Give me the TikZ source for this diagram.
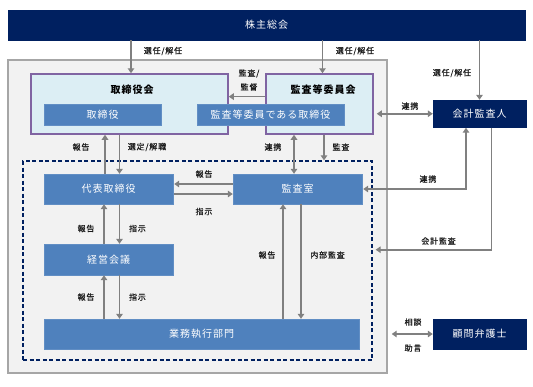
\documentclass[tikz,border=0pt]{standalone}
\usepackage{fontspec}
\newfontfamily\jp{Noto Sans CJK JP}[LetterSpace=10]
\newfontfamily\jplbl{Noto Sans CJK JP}[LetterSpace=10,FakeBold=0.6]
\usetikzlibrary{arrows.meta}
\definecolor{navy}{HTML}{002060}
\definecolor{boxblue}{HTML}{4F81BD}
\definecolor{lightblue}{HTML}{DCEEF4}
\definecolor{purpleb}{HTML}{8064A2}
\definecolor{bggray}{HTML}{F2F2F2}
\definecolor{bordergray}{HTML}{A6A6A6}
\definecolor{arrgray}{HTML}{808080}
\definecolor{lbltext}{HTML}{1A1A1A}
\begin{document}
\begin{tikzpicture}[x=1pt,y=-1pt,
  >={Triangle[length=5pt,width=6.5pt]},
  navybox/.style={draw=navy, fill=navy, text=white, font=\jp\fontsize{10}{12}\selectfont, inner sep=0pt},
  bluebox/.style={draw=boxblue!90!white, fill=boxblue, text=white, font=\jp\fontsize{10}{12}\selectfont, inner sep=0pt},
  purplebox/.style={draw=purpleb, line width=1.5pt, fill=lightblue, inner sep=0pt},
  outerbox/.style={draw=bordergray, line width=1.4pt, fill=bggray, inner sep=0pt},
  dashedbox/.style={draw=navy, line width=1.3pt, dash pattern=on 4pt off 2.5pt, inner sep=0pt},
  titletext/.style={font=\jp\bfseries\fontsize{10}{12}\selectfont, text=black, inner sep=0pt},
  lbl/.style={font=\jplbl\fontsize{8}{14}\selectfont, text=lbltext, inner sep=0pt, align=center},
  arr/.style={draw=arrgray, line width=1.6pt}
]
\useasboundingbox (0,0) rectangle (533,386);

% boxes
\node[navybox, minimum width=517pt, minimum height=30pt] (gm) at (266.5,25) {株主総会};
\node[outerbox, minimum width=379pt, minimum height=313pt] (outer) at (197.5,216.5) {};
\node[purplebox, minimum width=197pt, minimum height=60pt] (bd) at (129.5,104) {};
\node[purplebox, minimum width=107pt, minimum height=60pt] (ac) at (319.5,104) {};
\node[titletext] (bdt) at (132,90) {取締役会};
\node[titletext] (act) at (323,90) {監査等委員会};
\node[bluebox, minimum width=117pt, minimum height=21pt] (dir) at (102.5,114.5) {取締役};
\node[bluebox, minimum width=147pt, minimum height=21pt] (acd) at (270.5,114.5) {監査等委員である取締役};
\node[navybox, minimum width=93pt, minimum height=27.5pt] (aud) at (479.5,113.75) {会計監査人};
\node[dashedbox, minimum width=349pt, minimum height=199pt] (exec) at (197.5,260.5) {};
\node[bluebox, minimum width=129pt, minimum height=30pt] (ceo) at (108.5,189) {代表取締役};
\node[bluebox, minimum width=129pt, minimum height=30pt] (iad) at (297.5,189) {監査室};
\node[bluebox, minimum width=129pt, minimum height=31pt] (mgm) at (108.5,259.5) {経営会議};
\node[bluebox, minimum width=315pt, minimum height=30pt] (ops) at (201.5,334) {業務執行部門};
\node[navybox, minimum width=93pt, minimum height=30pt] (law) at (479.5,334) {顧問弁護士};

% connectors from shareholders
\draw[arr,->] ([xshift=1.5pt]bd.north |- gm.south) -- ([xshift=1.5pt]bd.north);
\draw[arr,->] ([xshift=3pt]ac.north |- gm.south) -- ([xshift=3pt]ac.north);
\draw[arr,->] (aud.north |- gm.south) -- (aud.north);
% audit committee -> board
\draw[arr,->] ([yshift=7.4pt]ac.west) -- ([yshift=7.4pt]ac.west -| bd.east);
% audit committee <-> accounting auditor
\draw[arr,<->] ([xshift=3pt]ac.east |- aud.west) -- (aud.west);
% ceo <-> board
\draw[arr,->] ([xshift=-3.5pt]ceo.north) -- ([xshift=-3.5pt]ceo.north |- bd.south);
\draw[arr,->] ([xshift=11pt]ceo.north |- bd.south) -- ([xshift=11pt]ceo.north);
% audit committee <-> audit office
\draw[arr,<->] ([xshift=-3.5pt]iad.north |- ac.south) -- ([xshift=-3.5pt]iad.north);
\draw[arr,->] ([xshift=4.5pt]ac.south) -- ([xshift=4.5pt]ac.south |- exec.north);
% audit office <-> ceo
\draw[arr,->] ([yshift=5pt]iad.west) -- ([yshift=5pt,xshift=1pt]iad.west -| ceo.east);
\draw[arr,->] ([yshift=-5pt,xshift=1pt]ceo.east) -- ([yshift=-5pt]ceo.east -| iad.west);
% audit office <-> accounting auditor
\draw[arr,<->] ([xshift=1pt]iad.east) -| ([xshift=-13.5pt]aud.south);
% accounting auditor -> execution area
\draw[arr,->] ([xshift=12pt]aud.south) |- ([yshift=10.8pt,xshift=3pt]exec.east);
% ceo <-> management meeting
\draw[arr,->] ([xshift=-4.5pt]mgm.north) -- ([xshift=-4.5pt]mgm.north |- ceo.south);
\draw[arr,->] ([xshift=11pt]ceo.south) -- ([xshift=11pt]ceo.south |- mgm.north);
% management meeting <-> operations
\draw[arr,->] ([xshift=-4.5pt]mgm.south |- ops.north) -- ([xshift=-4.5pt]mgm.south);
\draw[arr,->] ([xshift=11pt]mgm.south) -- ([xshift=11pt]mgm.south |- ops.north);
% audit office <-> operations
\draw[arr,->] ([xshift=-14.5pt]iad.south |- ops.north) -- ([xshift=-14.5pt]iad.south);
\draw[arr,->] ([xshift=3.5pt]iad.south) -- ([xshift=3.5pt]iad.south |- ops.north);
% company <-> lawyer
\draw[arr,<->] ([xshift=4pt]outer.east |- law.west) -- (law.west);

% labels
\node[lbl] (l1) at (163,51) {選任/解任};
\node[lbl] (l2) at (355,51) {選任/解任};
\node[lbl] (l3) at (452,73) {選任/解任};
\node[lbl] (l4) at (249,80) {監査/\\監督};
\node[lbl] (l5) at (410,106) {連携};
\node[lbl] (l6) at (81,147) {報告};
\node[lbl] (l7) at (147,147) {選定/解職};
\node[lbl] (l8) at (273,147) {連携};
\node[lbl] (l9) at (341,147) {監査};
\node[lbl] (l10) at (204,174) {報告};
\node[lbl] (l11) at (204,211.5) {指示};
\node[lbl] (l12) at (428,179) {連携};
\node[lbl] (l13) at (438.5,241) {会計監査};
\node[lbl] (l14) at (86,228.5) {報告};
\node[lbl] (l15) at (137.5,228.5) {指示};
\node[lbl] (l16) at (86,297) {報告};
\node[lbl] (l17) at (137.5,297) {指示};
\node[lbl] (l18) at (267,255) {報告};
\node[lbl] (l19) at (327.5,255) {内部監査};
\node[lbl] (l20) at (413,322) {相談};
\node[lbl] (l21) at (413,348) {助言};
\end{tikzpicture}
\end{document}
